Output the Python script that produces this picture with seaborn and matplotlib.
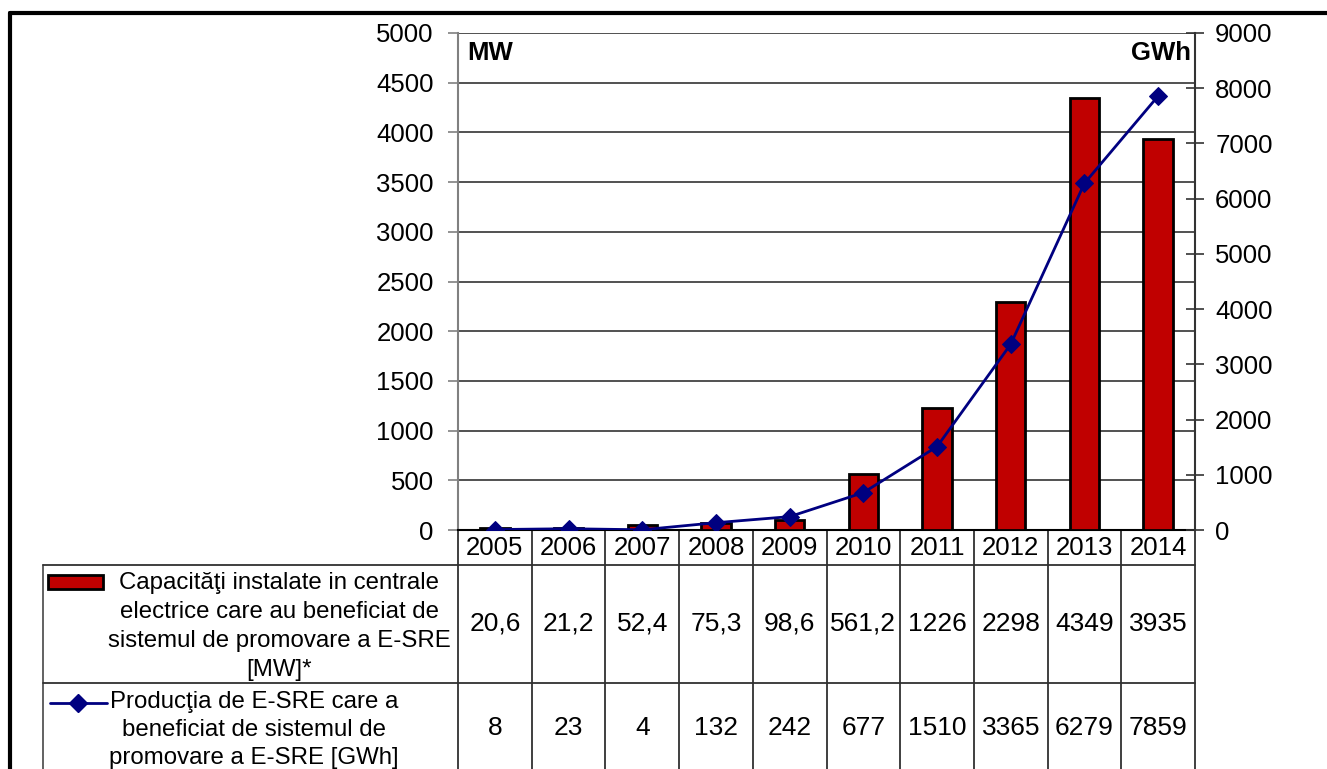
import matplotlib
matplotlib.use("Agg")
import matplotlib.pyplot as plt
from matplotlib.transforms import blended_transform_factory
from matplotlib.lines import Line2D
from matplotlib.patches import Rectangle
import pandas as pd
import seaborn as sns

# data
years = [2005, 2006, 2007, 2008, 2009, 2010, 2011, 2012, 2013, 2014]
capacity_mw = [20.6, 21.2, 52.4, 75.3, 98.6, 561.2, 1226, 2298, 4349, 3935]
production_gwh = [8, 23, 4, 132, 242, 677, 1510, 3365, 6279, 7859]

row1_label = ["Capacităţi instalate in centrale",
              "electrice care au beneficiat de",
              "sistemul de promovare a E-SRE",
              "[MW]*"]
row2_label = ["Producţia de E-SRE care a",
              "beneficiat de sistemul de",
              "promovare a E-SRE [GWh]"]

bar_color = "#C00000"
line_color = "#000080"

W, H = 1327, 769
sns.set_theme(style="white")
plt.rcParams["font.family"] = ["Liberation Sans", "DejaVu Sans"]
plt.rcParams["text.color"] = "black"


def fx(px):
    return px / W


def fy(py):
    return 1 - py / H


fig = plt.figure(figsize=(W / 100, H / 100), dpi=100)
fig.patch.set_facecolor("white")

ax = fig.add_axes([fx(458), fy(530), fx(1195) - fx(458), fy(33) - fy(530)])
df = pd.DataFrame({"year": [str(y) for y in years],
                   "mw": capacity_mw,
                   "gwh": production_gwh})

sns.barplot(data=df, x="year", y="mw", color=bar_color, saturation=1,
            width=0.4, edgecolor="black", linewidth=2, ax=ax, zorder=3)
ax.set_xlim(-0.5, len(years) - 0.5)
ax.set_ylim(0, 5000)
ax.set_yticks(range(0, 5001, 500))
ax.set_xticks([])
ax.set_xlabel("")
ax.set_ylabel("")
ax.set_axisbelow(True)
ax.yaxis.grid(True, color="#333333", linewidth=1.2)
ax.tick_params(axis="y", left=True, direction="out", length=7.5, width=1.2,
               color="#808080", pad=10, labelsize=18.5, labelcolor="black")
ax.spines["top"].set_visible(False)
ax.spines["right"].set_visible(False)
ax.spines["left"].set_color("#808080")
ax.spines["left"].set_linewidth(1.5)
ax.spines["bottom"].set_color("black")
ax.spines["bottom"].set_linewidth(1.5)

ax2 = ax.twinx()
sns.lineplot(data=df, x="year", y="gwh", ax=ax2, color=line_color,
             linewidth=2, marker="D", markersize=9,
             markeredgecolor=line_color, sort=False, zorder=5)
ax2.set_ylim(0, 9000)
ax2.set_yticks(range(0, 9001, 1000))
ax2.set_ylabel("")
ax2.set_xlabel("")
ax2.tick_params(axis="y", right=True, direction="inout", length=13, width=1.2,
                color="#333333", pad=8, labelsize=18.5, labelcolor="black")
for s in ["top", "left", "bottom"]:
    ax2.spines[s].set_visible(False)
ax2.spines["right"].set_color("#333333")
ax2.spines["right"].set_linewidth(1.5)

ax.text(0.013, 0.984, "MW", transform=ax.transAxes, ha="left", va="top",
        fontsize=18.5, fontweight="bold")
ax.text(0.994, 0.984, "GWh", transform=ax.transAxes, ha="right", va="top",
        fontsize=18.5, fontweight="bold")

# data table under the plot
tr = blended_transform_factory(ax.transData, fig.transFigure)
lc = "#303030"
for i in range(len(years) + 1):
    ax.plot([i - 0.5, i - 0.5], [fy(530), 0], transform=tr, color=lc,
            lw=1.3, clip_on=False)
fig.add_artist(Line2D([fx(43), fx(43)], [fy(565), 0], color="#555555", lw=1.3))
for py in [565, 683]:
    fig.add_artist(Line2D([fx(43), fx(1195)], [fy(py), fy(py)], color=lc, lw=1.3))


def fmt(v):
    return f"{v:g}".replace(".", ",")


for i, (y, c, p) in enumerate(zip(years, capacity_mw, production_gwh)):
    ax.text(i, fy(548), str(y), transform=tr, ha="center", va="center",
            fontsize=18.5, clip_on=False)
    ax.text(i, fy(624), fmt(c), transform=tr, ha="center", va="center",
            fontsize=19, clip_on=False)
    ax.text(i, fy(728), fmt(p), transform=tr, ha="center", va="center",
            fontsize=19, clip_on=False)

for k, line in enumerate(row1_label):
    fig.text(fx(279), fy(583 + 29 * k), line, ha="center", va="center",
             fontsize=17.3)
for k, line in enumerate(row2_label):
    fig.text(fx(254), fy(702 + 28 * k), line, ha="center", va="center",
             fontsize=17.3)

# legend keys inside the table
fig.add_artist(Rectangle((fx(48), fy(589)), fx(103) - fx(48), fy(575) - fy(589),
                         transform=fig.transFigure, facecolor=bar_color,
                         edgecolor="black", lw=2))
fig.add_artist(Line2D([fx(50), fx(107)], [fy(703), fy(703)], color=line_color, lw=2))
fig.add_artist(Line2D([fx(78)], [fy(703)], color=line_color, marker="D",
                      markersize=9, markeredgecolor=line_color))

# outer frame
fig.add_artist(Line2D([fx(10), fx(10)], [fy(13), 0], color="black", lw=3))
fig.add_artist(Line2D([fx(10), 1], [fy(13), fy(13)], color="black", lw=3))

fig.savefig("out.png", dpi=100)
